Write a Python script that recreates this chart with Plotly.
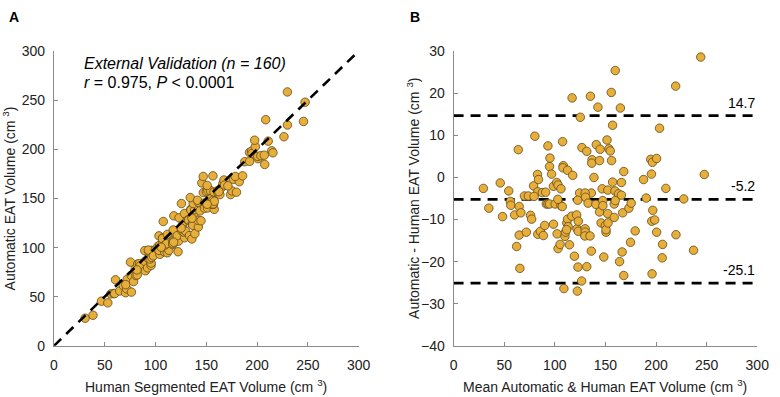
import plotly.graph_objects as go
import numpy as np

# Bland-Altman readings (mean of methods, difference Automatic - Human), cm^3
mean_vol = [29.4, 46.1, 54.5, 63.9, 70, 73.9, 79, 80.3, 82.9, 83.9, 83.2, 87.7, 91, 93.2, 94.8, 96.8, 95.2,
            98.7, 101.9, 103.2, 106.1, 107.7, 108.4, 108, 112.6, 117.7, 117.1, 124.5, 125.2, 126.8, 131.6,
            135.2, 136.8, 136.5, 136.1, 130, 130.3, 138.7, 141, 142.6, 144.2, 144.8, 146.8, 151.6, 152.3,
            153.5, 154.8, 155.8, 156.1, 157.1, 157.1, 159.7, 159.4, 162.9, 164.8, 165.8, 168.1, 165.8,
            187.7, 190.3, 194.8, 196.5, 195.5, 200.6, 203.5, 209.7, 219.4, 227.4, 244.2, 247.7,
            34.8, 48.4, 56.1, 56.5, 60.3, 62.3, 64.8, 64.8, 65.5, 66.5, 71.9, 76.1, 77.1, 83.2, 85.8, 88.7,
            90, 91.6, 93.2, 94.8, 98.7, 100.3, 102.3, 103.2, 105.2, 106.1, 107.4, 109, 110, 111.9, 112.6,
            110.6, 113.2, 114.5, 116.8, 119.4, 121.6, 121.9, 123.2, 123.2, 122.9, 122.3, 126.5, 130, 130,
            129.7, 131.6, 134.8, 132.9, 136.1, 140.6, 144.2, 145.8, 147.4, 148.4, 150, 150.6, 150.6, 152.3,
            152.6, 158.7, 158.7, 159.7, 164, 166.5, 167.1, 168.1, 173.2, 174.8, 175.5, 179.4, 195.8, 196.8,
            196.1, 198.7, 200.6, 206.5, 206.1, 219.7, 237.1,
            79.5, 103, 122.6, 147.5, 111.7]
diff_vol = [-2.6, -1.3, -3.2, 6.6, -4.4, -4.4, -2, 9.8, 0.7, -0.5, -3.4, -3.6, -3.5, 7.5, 2.6, 0.8, 4.6,
            -2.1, -1.2, -1.8, -2.7, 8.5, 2.8, 2.3, 1.7, 0.5, 18.9, -3.7, 14.3, 7.1, 6.2,
            19.3, 4.2, 3.4, -3.7, -3.7, -4.7, 0, 7.8, 16.7, 4, 6.7, -2.7, 8.9, -3,
            6.8, 6.3, 20.2, 4, 12.4, -1.1, 25.4, -3.2, -3.9, 16.5, -1.2, 1.4, -4.2,
            -0.5, -4.9, 4.3, 3.6, 0.8, 4.5, 11.7, -2.6, 21.7, -5.1, 28.6, 0.7,
            -7.3, -9.3, -5.7, -6.6, -8.9, -16.4, -6.9, -13.7, -21.6, -8.4, -13, -9, -9.9, -13.5, -12.8, -13.8,
            -11.4, -6.3, -6.3, -6.3, -11.1, -6.3, -13.4, -16.9, -15.9, -6.7, -6.9, -26.4, -14, -10.8, -9.9,
            -13, -11.7, -16, -9.2, -18.7, -8.9, -12.2, -10.4, -12.8, -21.3, -27, -24.6, -12.2, -13,
            -13.9, -21.2, -13.9, -6.1, -17.5, -6.4, -8.2, -10.8, -5.5, -18.9, -11.4, -13, -12.4, -8.6,
            -10.8, -6.3, -9.5, -5.5, -20, -17.7, -8.4, -23.3, -7.3, -15.4, -6.1, -12.7, -10.4, -7.8,
            -22.9, -10.1, -13, -15.9, -19.1, -13.6, -17.3,
            -4.5, -5.2, -5.4, -6.7, -12.4]

# limits of agreement
loa_values = [14.7, -5.2, -25.1]
loa_labels = ["14.7", "-5.2", "-25.1"]

tick_vals_a = [0, 50, 100, 150, 200, 250, 300]
tick_vals_b_y = [-40, -30, -20, -10, 0, 10, 20, 30]

mean_arr = np.array(mean_vol)
diff_arr = np.array(diff_vol)
human = mean_arr - diff_arr / 2
auto = mean_arr + diff_arr / 2

FONT = "Arial, 'Liberation Sans', sans-serif"
MCOL = "#E8AE3A"
MLINE = "#5E4A1C"
AXCOL = "#8a8a8a"

fig = go.Figure()

# Panel A scatter
fig.add_trace(go.Scatter(x=human, y=auto, mode="markers", xaxis="x", yaxis="y",
                         marker=dict(size=8.5, color=MCOL, line=dict(color=MLINE, width=0.8)),
                         showlegend=False, hoverinfo="skip"))
# identity line
fig.add_trace(go.Scatter(x=[0, 300], y=[0, 300], mode="lines", xaxis="x", yaxis="y",
                         line=dict(color="black", width=2.6, dash="10px,7px"),
                         showlegend=False, hoverinfo="skip"))

# Panel B LOA lines
for v in loa_values:
    fig.add_trace(go.Scatter(x=[0, 300], y=[v, v], mode="lines", xaxis="x2", yaxis="y2",
                             line=dict(color="black", width=2.6, dash="10px,7px"),
                             showlegend=False, hoverinfo="skip"))
fig.add_trace(go.Scatter(x=mean_arr, y=diff_arr, mode="markers", xaxis="x2", yaxis="y2",
                         marker=dict(size=8.5, color=MCOL, line=dict(color=MLINE, width=0.8)),
                         showlegend=False, hoverinfo="skip"))

ax_common = dict(showgrid=False, zeroline=False, showline=True, linecolor=AXCOL, linewidth=1,
                 ticks="inside", ticklen=4, tickcolor=AXCOL, tickwidth=1,
                 tickfont=dict(family=FONT, size=14, color="#222"), mirror=False)

y_top = 1 - 45 / 397
y_bot = 1 - 352 / 397

fig.update_layout(
    width=780, height=397, autosize=False,
    margin=dict(l=0, r=0, t=0, b=0),
    paper_bgcolor="white", plot_bgcolor="white",
    font=dict(family=FONT, color="#222"),
    xaxis=dict(domain=[51 / 780, 362 / 780], range=[0, 300], tickvals=tick_vals_a,
               anchor="y", ticklabelstandoff=6, **ax_common),
    yaxis=dict(domain=[y_bot, y_top], range=[0, 300], tickvals=tick_vals_a,
               anchor="x", ticklabelstandoff=5, **ax_common),
    xaxis2=dict(domain=[459 / 780, 769 / 780], range=[0, 300], tickvals=tick_vals_a,
                anchor="y2", ticklabelstandoff=6, **ax_common),
    yaxis2=dict(domain=[y_bot, y_top], range=[-40, 30], tickvals=tick_vals_b_y,
                anchor="x2", ticklabelstandoff=5, **ax_common),
)

ann = []
# panel letters
ann.append(dict(text="<b>A</b>", x=10 / 780, y=1 - 9 / 397, xref="paper", yref="paper",
                xanchor="center", yanchor="middle", showarrow=False,
                font=dict(family=FONT, size=14, color="black")))
ann.append(dict(text="<b>B</b>", x=420 / 780, y=1 - 9 / 397, xref="paper", yref="paper",
                xanchor="center", yanchor="middle", showarrow=False,
                font=dict(family=FONT, size=14, color="black")))
# stats text
ann.append(dict(text="<i>External Validation (n = 160)</i>", x=27.3, y=287.3, xref="x", yref="y",
                xanchor="left", yanchor="middle", showarrow=False,
                font=dict(family=FONT, size=16, color="black")))
ann.append(dict(text="<i>r</i> = 0.975, <i>P</i> &lt; 0.0001", x=27.3, y=268.5, xref="x", yref="y",
                xanchor="left", yanchor="middle", showarrow=False,
                font=dict(family=FONT, size=16, color="black")))
# LOA labels
for v, lab in zip(loa_values, loa_labels):
    ann.append(dict(text=lab, x=300, y=v, xref="x2", yref="y2", xanchor="right", yanchor="middle",
                    yshift=13, showarrow=False, font=dict(family=FONT, size=14, color="black")))
# axis titles
ann.append(dict(text="Human Segmented EAT Volume (cm <sup>3</sup>)", x=206.5 / 780, y=0,
                xref="paper", yref="paper", xanchor="center", yanchor="bottom", yshift=-8,
                showarrow=False, font=dict(family=FONT, size=14, color="#222")))
ann.append(dict(text="Mean Automatic &amp; Human EAT Volume (cm <sup>3</sup>)", x=614 / 780, y=0,
                xref="paper", yref="paper", xanchor="center", yanchor="bottom", yshift=-8,
                showarrow=False, font=dict(family=FONT, size=14, color="#222")))
ann.append(dict(text="Automatic EAT Volume (cm <sup>3</sup>)", x=5 / 780, y=(y_top + y_bot) / 2,
                xref="paper", yref="paper", xanchor="center", yanchor="middle", showarrow=False,
                textangle=-90, font=dict(family=FONT, size=14, color="#222")))
ann.append(dict(text="Automatic - Human EAT Volume (cm <sup>3</sup>)", x=417 / 780, y=(y_top + y_bot) / 2,
                xref="paper", yref="paper", xanchor="center", yanchor="middle", showarrow=False,
                textangle=-90, font=dict(family=FONT, size=14, color="#222")))
fig.update_layout(annotations=ann)

fig.write_html("out.html")
